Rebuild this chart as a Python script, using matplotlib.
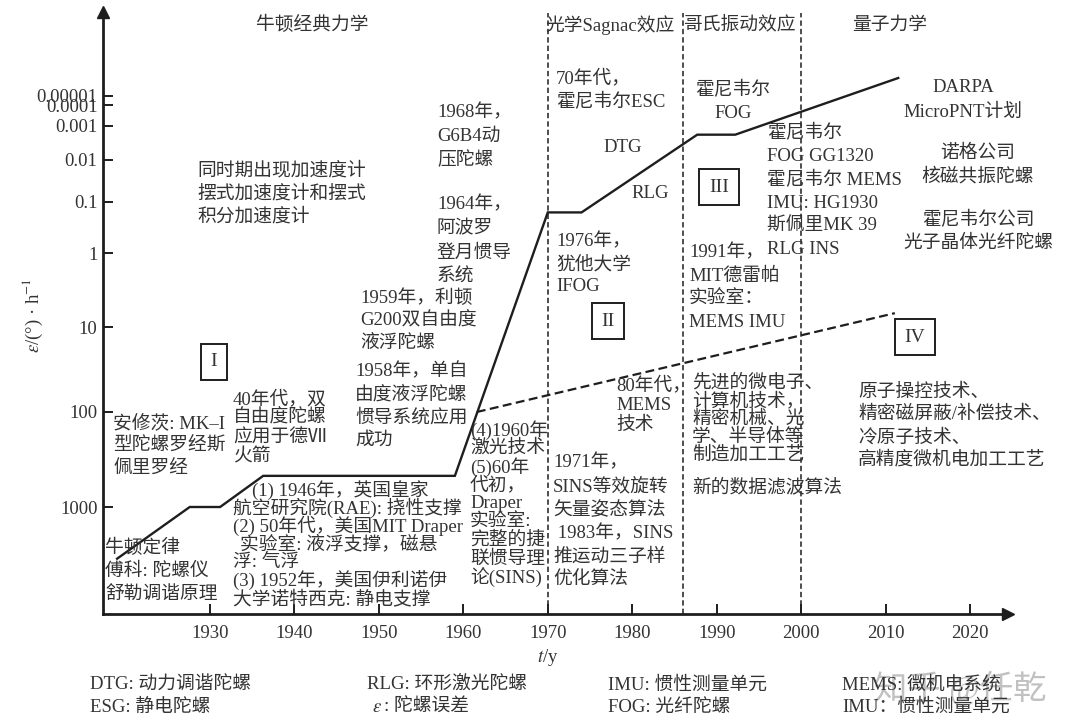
import numpy as np
import matplotlib
matplotlib.use('Agg')
import matplotlib.pyplot as plt

W, H = 1080, 728
FAM = ['Liberation Serif', 'Noto Sans CJK SC']
TXT = '#333333'
INK = '#1e1e1e'
plt.rcParams['font.family'] = FAM
plt.rcParams['mathtext.fontset'] = 'stix'

# gyro drift trend (°/h)
years_main = [1919.0, 1927.6, 1931.2, 1936.3, 1959.0, 1970.0, 1974.0, 1987.7, 1992.2, 2011.5]
drift_main = [3500, 1000, 1000, 470, 470, 0.16, 0.16, 0.0018, 0.0018, 1e-6]
years_mems = [1961.6, 2011.1]
drift_mems = [100, 6.5]
era_bounds = [1970, 1986, 2000]
xticks = [1930, 1940, 1950, 1960, 1970, 1980, 1990, 2000, 2010, 2020]
yticks = [1000, 100, 10, 1, 0.1, 0.01, 0.001, 0.0001, 0.00001]
ytick_labels = ['1000', '100', '10', '1', '0.1', '0.01', '0.001', '0.0001', '0.00001']

# the original y axis is log-like but unevenly spaced: piecewise map -log10(v) -> pixel height
U_ANCH = np.array([-6, -3, -2, -1, 0, 1, 2, 3, 4, 5, 6, 12], dtype=float)
H_ANCH = np.array([-178, 107, 202, 287, 361, 412, 454, 488, 509, 518, 536, 650], dtype=float)


def fwd(v):
    v = np.clip(np.asarray(v, dtype=float), 1e-30, None)
    return np.interp(-np.log10(v), U_ANCH, H_ANCH)


def inv(h):
    return 10.0 ** (-np.interp(np.asarray(h, dtype=float), H_ANCH, U_ANCH))


def put(x, y, s, ha='left', va='center', size=13.5, **kw):
    return fig.text(x / W, 1 - y / H, s, ha=ha, va=va, fontsize=size, color=TXT, **kw)


def put_lines(x, y0, dy, lines, ha='left', size=13.5):
    for i, s in enumerate(lines):
        put(x, y0 + i * dy, s, ha=ha, size=size)


fig = plt.figure(figsize=(W / 100, H / 100), dpi=100)
ax = fig.add_axes([103 / W, 1 - 614 / H, (1008 - 103) / W, (614 - 12) / H])
ax.set_yscale('function', functions=(fwd, inv))
ax.set_xlim(1917.33, 2024.5)
ax.set_ylim(inv(602), inv(0))

ax.plot(years_main, drift_main, color=INK, lw=1.7, solid_joinstyle='miter')
ax.plot(years_mems, drift_mems, color=INK, lw=1.6, dashes=(4, 2))
for b in era_bounds:
    ax.axvline(b, ymax=0.998, color=INK, lw=1.1, dashes=(3.5, 2))

ax.set_xticks(xticks)
ax.set_xticklabels([str(t) for t in xticks])
ax.set_yticks(yticks)
ax.set_yticklabels(ytick_labels)
ax.minorticks_off()
ax.tick_params(direction='in', length=7, width=1.4, color=INK, labelsize=13.5, labelcolor=TXT)
ax.tick_params(axis='x', pad=8)
ax.tick_params(axis='y', pad=4)
for sp in ['top', 'right']:
    ax.spines[sp].set_visible(False)
for sp in ['left', 'bottom']:
    ax.spines[sp].set_linewidth(2)
    ax.spines[sp].set_color(INK)
ax.plot(1, 0, '>', color=INK, ms=9, transform=ax.transAxes, clip_on=False)
ax.plot(0, 1, '^', color=INK, ms=9, transform=ax.transAxes, clip_on=False)
ax.patch.set_visible(False)

# axis titles
put(33, 315, '$\\varepsilon$/(°) · h$^{-1}$', ha='center', rotation=90)
put(548, 657, '$t$/y', ha='center')

# era headers
put(312, 25, '牛顿经典力学', ha='center')
put(610, 25, '光学Sagnac效应', ha='center')
put(740, 25, '哥氏振动效应', ha='center')
put(890, 25, '量子力学', ha='center')

# stage boxes
for x, y, s in [(214, 362, 'I'), (608, 321, 'II'), (719, 187, 'III'), (915, 337, 'IV')]:
    put(x, y, s, ha='center', size=14,
        bbox=dict(boxstyle='square,pad=0.5', fc='white', ec=INK, lw=1.4))

# annotations
put_lines(197, 171, 23, ['同时期出现加速度计', '摆式加速度计和摆式', '积分加速度计'])
put_lines(113, 423, 22.5, ['安修茨: MK–I', '型陀螺罗经斯', '佩里罗经'])
put_lines(233, 399, 19.3, ['40年代，双', '自由度陀螺', '应用于德Ⅶ', '火箭'])
put_lines(105, 548, 23.5, ['牛顿定律', '傅科: 陀螺仪', '舒勒调谐原理'])
put(252, 490, '(1) 1946年，英国皇家')
put_lines(233, 508, 18.2, ['航空研究院(RAE): 挠性支撑', '(2) 50年代，美国MIT Draper'])
put(240, 544, '实验室: 液浮支撑，磁悬')
put_lines(233, 562, 18.5, ['浮: 气浮', '(3) 1952年，美国伊利诺伊', '大学诺特西克: 静电支撑'])
put_lines(355, 372, 22.7, ['1958年，单自', '由度液浮陀螺', '惯导系统应用', '成功'])
put_lines(360, 298, 22.5, ['1959年，利顿', 'G200双自由度', '液浮陀螺'])
put_lines(437, 205, 24, ['1964年，', '阿波罗', '登月惯导', '系统'])
put_lines(437, 113, 23.5, ['1968年，', 'G6B4动', '压陀螺'])
put_lines(470, 430, 18.4, ['(4)1960年', '激光技术', '(5)60年', '代初，', 'Draper',
                           '实验室:', '完整的捷', '联惯导理', '论(SINS)'])
put_lines(556, 78, 24, ['70年代，', '霍尼韦尔ESC'])
put(623, 148, 'DTG', ha='center')
put(650, 194, 'RLG', ha='center')
put_lines(556, 242, 22.5, ['1976年，', '犹他大学', 'IFOG'])
put_lines(616, 385, 20, ['80年代，', 'MEMS', '技术'])
put_lines(553, 463, 23.4, ['1971年，', 'SINS等效旋转', '矢量姿态算法', ' 1983年，SINS',
                           '推运动三子样', '优化算法'])
put_lines(733, 90, 23, ['霍尼韦尔', 'FOG'], ha='center')
put_lines(767, 133, 23.4, ['霍尼韦尔', 'FOG GG1320', '霍尼韦尔 MEMS', 'IMU: HG1930',
                           '斯佩里MK 39', 'RLG INS'])
put_lines(689, 253, 23.3, ['1991年，', 'MIT德雷帕', '实验室：', 'MEMS IMU'])
put_lines(963, 88, 24, ['DARPA', 'MicroPNT计划'], ha='center')
put_lines(978, 153, 24, ['诺格公司', '核磁共振陀螺'], ha='center')
put_lines(978, 220, 23, ['霍尼韦尔公司', '光子晶体光纤陀螺'], ha='center')
put_lines(692, 383, 18, ['先进的微电子、', '计算机技术，', '精密机械、光', '学、半导体等', '制造加工工艺'])
put(692, 487, '新的数据滤波算法')
put_lines(858, 392, 22.7, ['原子操控技术、', '精密磁屏蔽/补偿技术、', '冷原子技术、', '高精度微机电加工工艺'])

# abbreviations
put_lines(90, 685, 22, ['DTG: 动力调谐陀螺', 'ESG: 静电陀螺'])
put(367, 685, 'RLG: 环形激光陀螺')
put(372, 707, '$\\varepsilon$')
put(384, 707, ': 陀螺误差')
put_lines(608, 685, 22, ['IMU: 惯性测量单元', 'FOG: 光纤陀螺'])
put_lines(842, 685, 22, ['MEMS: 微机电系统', 'IMU：惯性测量单元'])
put(960, 688, '知乎 @任乾', ha='center', size=24, alpha=0.3)

fig.savefig('out.png', dpi=100)
